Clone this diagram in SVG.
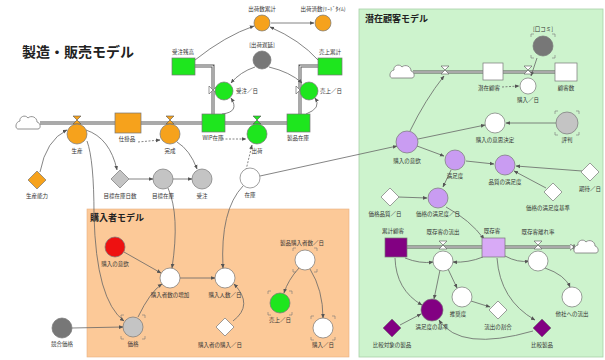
<svg xmlns="http://www.w3.org/2000/svg" width="605" height="360" viewBox="0 0 605 360">
<style>
.lb{font-family:"Noto Sans CJK JP","Noto Sans",sans-serif;font-size:5.5px;fill:#333;text-anchor:middle}
.ll{font-family:"Noto Sans CJK JP","Noto Sans",sans-serif;font-size:5.5px;fill:#333}
.tt{font-family:"Noto Sans CJK JP",sans-serif;font-weight:bold;fill:#222}
.c{fill:none;stroke:#666;stroke-width:0.8}
.d{fill:none;stroke:#666;stroke-width:0.8;stroke-dasharray:2 1.5}
.po{fill:none;stroke:#555;stroke-width:3}
.pi{fill:none;stroke:#fff;stroke-width:1}
.n{stroke:#777;stroke-width:0.7}
.or{fill:#f6a21c}.gr{fill:#1ee61e}.lg{fill:#c4c4c4}.dg{fill:#777}.wh{fill:#fff}.pu{fill:#c99cf2}.dp{fill:#820082}.rd{fill:#ee1111}.lp{fill:#d8aaf6}
.tk{fill:none;stroke:#777;stroke-width:0.6}
</style>
<defs>
<marker id="a" viewBox="0 0 6 6" refX="5.5" refY="3" markerWidth="4.5" markerHeight="4.5" markerUnits="userSpaceOnUse" orient="auto"><path d="M0,0.5 L6,3 L0,5.5z" fill="#555"/></marker>
<marker id="pa" viewBox="0 0 6 8" refX="5" refY="4" markerWidth="5" markerHeight="7" markerUnits="userSpaceOnUse" orient="auto"><path d="M0,0 L5,4 L0,8z M5,0 V8" fill="#fff" stroke="#555" stroke-width="0.8"/></marker>
<path id="cloud" d="M-10,6 H10 C13,6 13,0 9,-1 C9,-6 3,-8 0,-5 C-3,-9 -9,-6 -8,-2 C-13,-1 -13,6 -10,6 Z" fill="#fff" stroke="#777" stroke-width="0.8"/>
<path id="valve" d="M-4,-4 H4 L-4,4 H4 Z" stroke="#555" stroke-width="0.6"/>
<path id="vvalve" d="M-4,-4 V4 L4,-4 V4 Z" stroke="#555" stroke-width="0.6"/>
<path id="tick" d="M-12,-9 v-3 h3 M9,-12 h3 v3 M-12,9 v3 h3 M9,12 h3 v-3" class="tk"/>
<path id="dia" d="M0,-9 L9,0 L0,9 L-9,0 Z"/>
</defs>

<g id="panels">
<rect x="359" y="9" width="244" height="348" fill="#cdf3cd" stroke="#a8d0a8" stroke-width="0.8"/>
<rect x="87" y="209" width="262" height="148" fill="#fcc998" stroke="#e8b080" stroke-width="0.6"/>
</g>

<g id="titles">
<text class="tt" x="22" y="57" font-size="14">製造・販売モデル</text>
<text class="tt" x="365" y="22" font-size="9">潜在顧客モデル</text>
<text class="tt" x="90" y="221" font-size="9">購入者モデル</text>
</g>

<g id="pipes">
<path class="po" d="M40,123 H115 M141,123 H202 M225,123 H287 M195,66 H213 V114 M300,114 V66 H318 M413,72 H483 M503,72 H555 M407,247 H482 M505,247 H575"/>
<path class="pi" d="M40,123 H115 M141,123 H202 M225,123 H287 M195,66 H213 V114 M300,114 V66 H318 M413,72 H483 M503,72 H555 M407,247 H482 M505,247 H575"/>
<path d="M114,123 h0.1 M201,123 h0.1 M286,123 h0.1 M213,113 v0.1 M317,66 h0.1 M482,72 h0.1 M554,72 h0.1 M481,247 h0.1 M574,247 h0.1" stroke="none" fill="none" marker-end="url(#pa)"/>
</g>

<g id="connectors">
<path class="c" d="M271,23 L314,23" marker-end="url(#a)"/>
<path class="c" d="M195,60 Q225,36 254,26" marker-end="url(#a)"/>
<path class="c" d="M318,60 Q300,40 270,27" marker-end="url(#a)"/>
<path class="c" d="M255,67 Q240,72 231,83" marker-end="url(#a)"/>
<path class="c" d="M269,67 Q290,72 302,83" marker-end="url(#a)"/>
<path class="c" d="M222,114 Q240,112 231,98" marker-end="url(#a)"/>
<path class="c" d="M306,114 Q322,108 315,98" marker-end="url(#a)"/>
<path class="c" d="M40,172 Q46,140 67,130" marker-end="url(#a)"/>
<path class="c" d="M86,130 Q110,138 117,170" marker-end="url(#a)"/>
<path class="c" d="M87,141 Q94,160 94,215 Q96,300 124,321" marker-end="url(#a)"/>
<path class="d" d="M138,142 L160,140" marker-end="url(#a)"/>
<path class="c" d="M129,179 L153,179" marker-end="url(#a)"/>
<path class="c" d="M173,179 L192,179" marker-end="url(#a)"/>
<path class="c" d="M177,142 Q190,150 197,169" marker-end="url(#a)"/>
<path class="c" d="M168,188 Q180,215 172,268" marker-end="url(#a)"/>
<path class="c" d="M243,186 Q220,210 223,268" marker-end="url(#a)"/>
<path class="d" d="M246,170 L252,145" marker-end="url(#a)"/>
<path class="d" d="M222,139 L246,139" marker-end="url(#a)"/>
<path class="c" d="M260,176 L397,146" marker-end="url(#a)"/>
<path class="c" d="M124,252 L161,273" marker-end="url(#a)"/>
<path class="c" d="M138,317 Q150,292 162,284" marker-end="url(#a)"/>
<path class="c" d="M180,278 L215,278" marker-end="url(#a)"/>
<path class="c" d="M233,321 Q254,305 234,284" marker-end="url(#a)"/>
<path class="c" d="M72,328 L123,327" marker-end="url(#a)"/>
<path class="c" d="M299,268 Q288,280 284,293" marker-end="url(#a)"/>
<path class="c" d="M310,269 Q323,290 323,318" marker-end="url(#a)"/>
<path class="c" d="M410,131 Q425,100 444,76" marker-end="url(#a)"/>
<path class="c" d="M537,58 L531,76" marker-end="url(#a)"/>
<path class="d" d="M502,87 L519,86" marker-end="url(#a)"/>
<path class="c" d="M418,139 L485,125" marker-end="url(#a)"/>
<path class="c" d="M556,123 L506,123" marker-end="url(#a)"/>
<path class="c" d="M417,146 L444,156" marker-end="url(#a)"/>
<path class="c" d="M466,161 L494,164" marker-end="url(#a)"/>
<path class="c" d="M582,171 L516,166" marker-end="url(#a)"/>
<path class="c" d="M546,188 L514,171" marker-end="url(#a)"/>
<path class="c" d="M451,170 L443,187" marker-end="url(#a)"/>
<path class="c" d="M398,197 L427,198" marker-end="url(#a)"/>
<path class="c" d="M446,207 Q470,220 484,239" marker-end="url(#a)"/>
<path class="c" d="M405,258 Q420,264 433,262" marker-end="url(#a)"/>
<path class="c" d="M483,257 Q468,263 453,262" marker-end="url(#a)"/>
<path class="c" d="M440,270 L434,299" marker-end="url(#a)"/>
<path class="c" d="M448,269 L457,288" marker-end="url(#a)"/>
<path class="c" d="M395,258 Q396,290 422,305" marker-end="url(#a)"/>
<path class="c" d="M400,325 L421,314" marker-end="url(#a)"/>
<path class="c" d="M533,331 Q460,352 439,320" marker-end="url(#a)"/>
<path class="c" d="M497,258 Q500,300 535,320" marker-end="url(#a)"/>
<path class="c" d="M471,301 L490,307" marker-end="url(#a)"/>
<path class="c" d="M505,256 Q518,263 529,261" marker-end="url(#a)"/>
<path class="c" d="M545,268 Q565,275 570,287" marker-end="url(#a)"/>
</g>

<g id="n_cloud1"><use href="#cloud" x="28" y="123"/></g>
<g id="n_cloud2"><use href="#cloud" x="402" y="72"/></g>
<g id="n_cloud3"><use href="#cloud" x="586" y="247"/></g>

<g id="n_o1"><circle class="or n" cx="262" cy="23" r="8"/><text class="lb" x="262" y="11">出荷数累計</text></g>
<g id="n_o2"><circle class="or n" cx="323" cy="23" r="8"/><text class="lb" x="323" y="11">出荷済数(ﾘｰﾄﾞﾀｲﾑ)</text></g>
<g id="n_s1"><rect class="gr n" x="172" y="58" width="23" height="17"/><text class="lb" x="183" y="54">受注残高</text></g>
<g id="n_gy1"><circle class="dg n" cx="262" cy="60" r="9"/><text class="lb" x="262" y="47">[出荷遅延]</text></g>
<g id="n_s2"><rect class="gr n" x="318" y="58" width="24" height="17"/><text class="lb" x="330" y="54">売上累計</text></g>
<g id="n_g1"><use href="#vvalve" x="213" y="90" class="wh"/><circle class="gr n" cx="224" cy="91" r="9"/><text class="ll" x="236" y="93">受注／日</text></g>
<g id="n_g2"><use href="#vvalve" x="300" y="90" class="wh"/><circle class="gr n" cx="309" cy="91" r="9"/><text class="ll" x="320" y="93">売上／日</text></g>

<g id="n_o3"><use href="#valve" x="77" y="120" class="or"/><circle class="or n" cx="77" cy="134" r="10"/><text class="lb" x="77" y="153">生産</text></g>
<g id="n_so"><rect class="or n" x="115" y="113" width="26" height="20"/><text class="lb" x="127" y="141">仕掛品</text></g>
<g id="n_o4"><use href="#valve" x="170" y="120" class="or"/><circle class="or n" cx="170" cy="134" r="10"/><text class="lb" x="170" y="153">完成</text></g>
<g id="n_s3"><rect class="gr n" x="202" y="114" width="23" height="18"/><text class="lb" x="213" y="140">WIP在庫</text></g>
<g id="n_g3"><use href="#valve" x="257" y="120" class="gr"/><circle class="gr n" cx="257" cy="134" r="10"/><text class="lb" x="257" y="153">出荷</text></g>
<g id="n_s4"><rect class="gr n" x="287" y="114" width="23" height="18"/><text class="lb" x="298" y="140">製品在庫</text></g>

<g id="n_do"><use href="#dia" x="37" y="180" class="or n"/><text class="lb" x="37" y="198">生産能力</text></g>
<g id="n_dg"><use href="#dia" x="120" y="179" class="lg n"/><text class="lb" x="120" y="198">目標在庫日数</text></g>
<g id="n_gc1"><circle class="lg n" cx="163" cy="179" r="10"/><text class="lb" x="163" y="198">目標在庫</text></g>
<g id="n_gc2"><circle class="lg n" cx="202" cy="179" r="10"/><text class="lb" x="202" y="198">受注</text></g>
<g id="n_w0"><circle class="wh n" cx="250" cy="178" r="10"/><text class="lb" x="250" y="197">在庫</text></g>

<g id="n_red"><circle class="rd n" cx="115" cy="247" r="10"/><text class="lb" x="115" y="266">購入の意欲</text></g>
<g id="n_w1"><circle class="wh n" cx="170" cy="278" r="10"/><text class="lb" x="170" y="297">購入者数の増加</text></g>
<g id="n_w2"><circle class="wh n" cx="225" cy="278" r="10"/><text class="lb" x="225" y="297">購入人数／日</text></g>
<g id="n_wd"><use href="#dia" x="225" y="327" class="wh n"/><text class="lb" x="220" y="347">購入者の購入／日</text></g>
<g id="n_price"><circle class="lg n" cx="133" cy="327" r="10"/><use href="#tick" x="133" y="327"/><text class="lb" x="133" y="346">価格</text></g>
<g id="n_comp"><circle class="dg n" cx="62" cy="328" r="10"/><text class="lb" x="62" y="346">競合価格</text></g>
<g id="n_w3"><circle class="wh n" cx="305" cy="260" r="10"/><use href="#tick" x="305" y="260"/><text class="lb" x="302" y="245">製品購入者数／日</text></g>
<g id="n_g4"><circle class="gr n" cx="280" cy="303" r="10"/><use href="#tick" x="280" y="303"/><text class="lb" x="280" y="322">売上／日</text></g>
<g id="n_w4"><circle class="wh n" cx="323" cy="328" r="10"/><use href="#tick" x="323" y="328"/><text class="lb" x="323" y="347">購入／日</text></g>

<g id="n_s5"><rect class="wh n" x="483" y="63" width="20" height="17"/><text class="lb" x="489" y="90">潜在顧客</text></g>
<g id="n_f1"><use href="#valve" x="445" y="70" class="wh"/></g>
<g id="n_dg2"><circle class="dg n" cx="543" cy="46" r="10"/><use href="#tick" x="543" y="46"/><text class="lb" x="543" y="31">[口コミ]</text></g>
<g id="n_f2"><use href="#valve" x="528" y="70" class="wh"/><circle class="wh n" cx="528" cy="86" r="8"/><text class="lb" x="528" y="102">購入／日</text></g>
<g id="n_s6"><rect class="wh n" x="555" y="63" width="22" height="18"/><text class="lb" x="566" y="90">顧客数</text></g>

<g id="n_p1"><circle class="pu n" cx="407" cy="142" r="11"/><text class="lb" x="407" y="163">購入の意欲</text></g>
<g id="n_w5"><circle class="wh n" cx="495" cy="123" r="10"/><text class="lb" x="495" y="142">購入の意思決定</text></g>
<g id="n_rep"><circle class="lg n" cx="567" cy="123" r="11"/><use href="#tick" x="567" y="123"/><text class="lb" x="567" y="142">評判</text></g>
<g id="n_p2"><circle class="pu n" cx="455" cy="160" r="10"/><text class="lb" x="455" y="178">満足度</text></g>
<g id="n_p3"><circle class="pu n" cx="505" cy="165" r="10"/><text class="lb" x="505" y="184">品質の満足度</text></g>
<g id="n_d1"><use href="#dia" x="590" y="172" class="wh n"/><text class="lb" x="590" y="191">期待／日</text></g>
<g id="n_d2"><use href="#dia" x="553" y="192" class="wh n"/><text class="lb" x="548" y="210">価格の満足度基準</text></g>
<g id="n_d3"><use href="#dia" x="390" y="197" class="wh n"/><text class="lb" x="385" y="216">価格品質／日</text></g>
<g id="n_p4"><circle class="pu n" cx="438" cy="198" r="10"/><text class="lb" x="438" y="216">価格の満足度／日</text></g>

<g id="n_s7"><rect class="dp n" x="385" y="238" width="22" height="19"/><text class="lb" x="393" y="233">累計顧客</text></g>
<g id="n_f3"><use href="#valve" x="443" y="245" class="wh"/><circle class="wh n" cx="443" cy="261" r="10"/><text class="lb" x="443" y="234">既存客の流出</text></g>
<g id="n_s8"><rect class="lp n" x="482" y="238" width="23" height="19"/><text class="lb" x="492" y="233">既存客</text></g>
<g id="n_f4"><use href="#valve" x="538" y="245" class="wh"/><circle class="wh n" cx="538" cy="261" r="10"/><text class="lb" x="538" y="234">既存客離れ率</text></g>
<g id="n_w6"><circle class="wh n" cx="462" cy="297" r="10"/><text class="lb" x="458" y="316">推奨度</text></g>
<g id="n_d4"><use href="#dia" x="498" y="310" class="wh n"/><text class="lb" x="498" y="329">流出の割合</text></g>
<g id="n_w7"><circle class="wh n" cx="572" cy="297" r="10"/><text class="lb" x="572" y="316">他社への流出</text></g>
<g id="n_dp1"><circle class="dp n" cx="432" cy="310" r="11"/><text class="lb" x="432" y="329">満足度の基準</text></g>
<g id="n_dd1"><use href="#dia" x="392" y="328" class="dp n"/><text class="lb" x="392" y="347">比較対象の製品</text></g>
<g id="n_dd2"><use href="#dia" x="542" y="328" class="dp n"/><text class="lb" x="542" y="347">比較製品</text></g>
</svg>
